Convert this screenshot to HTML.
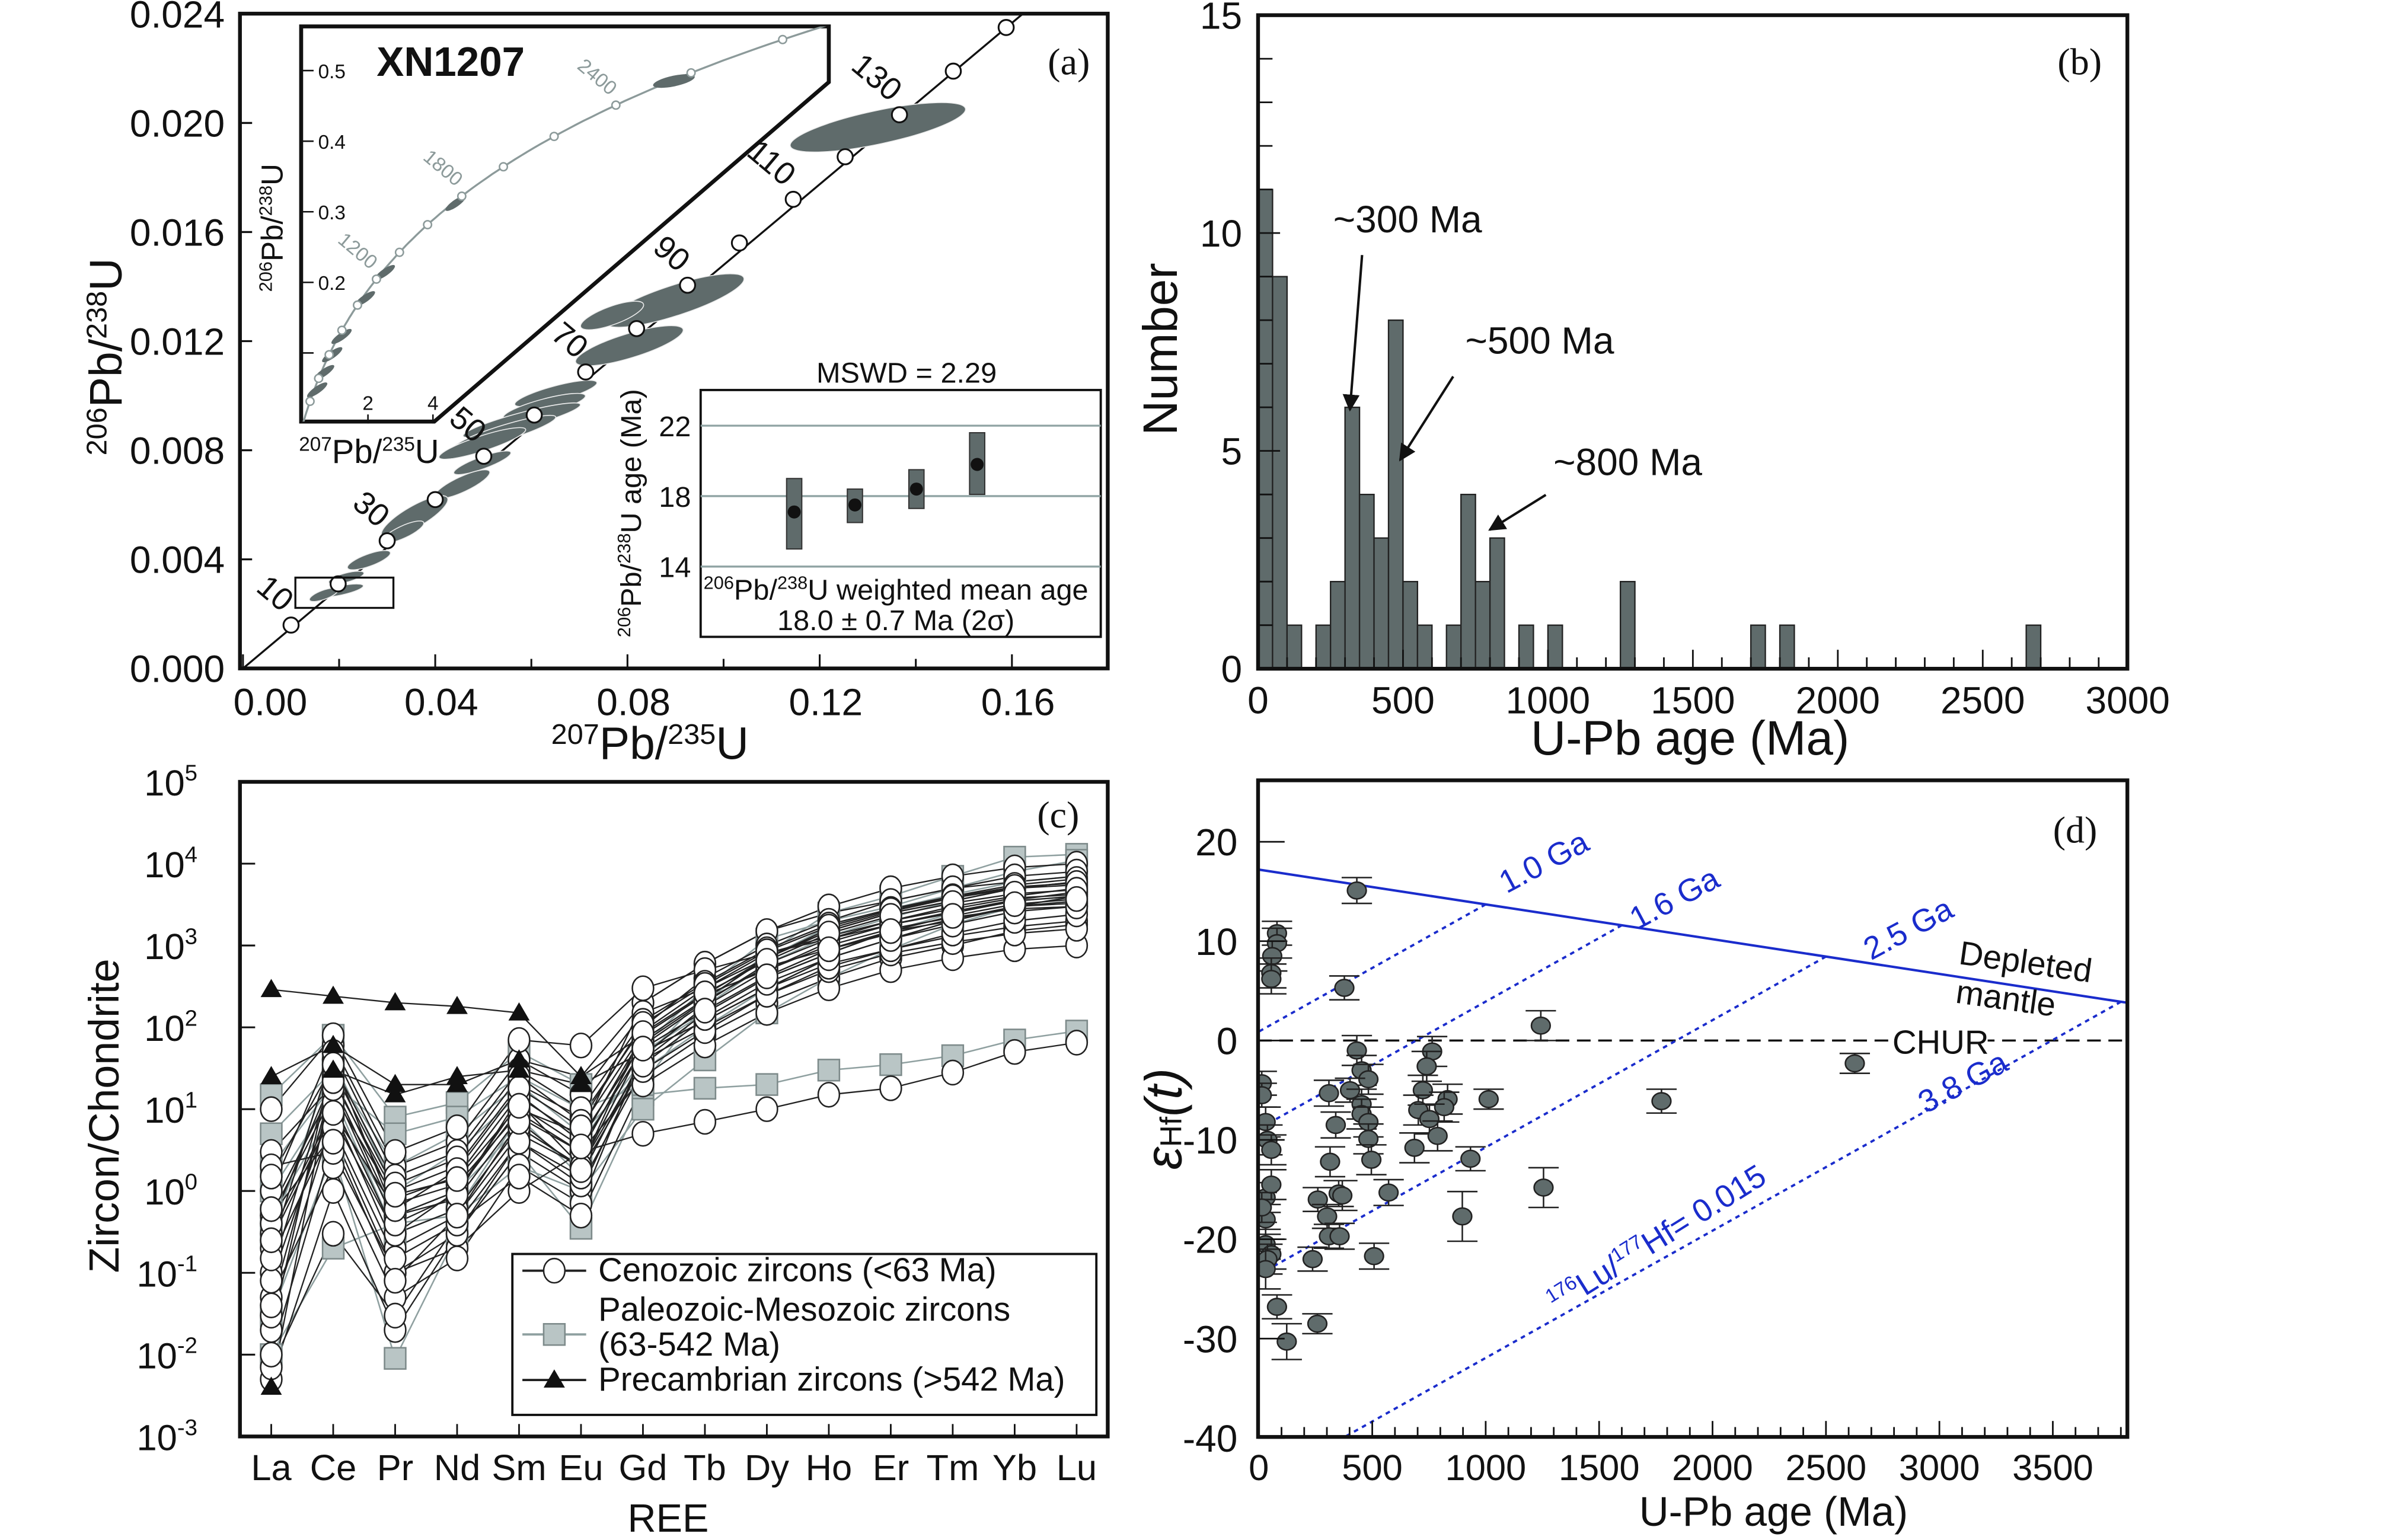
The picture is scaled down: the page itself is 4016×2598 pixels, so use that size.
<!DOCTYPE html>
<html><head><meta charset="utf-8"><style>
html,body{margin:0;padding:0;background:#fff;}
svg{display:block;}
text{font-family:"Liberation Sans",Arial,sans-serif;fill:#111;}
.nar{font-family:"Liberation Sans Narrow","Liberation Sans",sans-serif;}
.ser{font-family:"Liberation Serif",serif;}
</style></head><body>
<svg id="chart" width="4016" height="2598" viewBox="0 0 1568 1014.4" xmlns="http://www.w3.org/2000/svg">
<defs><marker id="ah" viewBox="0 0 10 10" refX="9" refY="5" markerWidth="7" markerHeight="7" orient="auto"><path d="M0,0 L10,5 L0,10 z" fill="#111"/></marker>
<clipPath id="aclip"><rect x="158" y="9" width="571.5" height="431.3"/></clipPath>
<clipPath id="insclip"><polygon points="198.3,17.4 545.8,17.4 545.8,54.1 286,277.7 198.3,277.7"/></clipPath>
</defs>
<rect width="1568" height="1015" fill="#fff"/>
<g id="pa">
<text class="ser" x="690" y="49" font-size="25">(a)</text>
<text class="nar" transform="translate(80,235) rotate(-90)" text-anchor="middle" font-size="30"><tspan font-size="19" dy="-10">206</tspan><tspan dy="10">Pb/</tspan><tspan font-size="19" dy="-10">238</tspan><tspan dy="10">U</tspan></text>
<text class="nar" x="428" y="500" text-anchor="middle" font-size="30"><tspan font-size="19" dy="-10">207</tspan><tspan dy="10">Pb/</tspan><tspan font-size="19" dy="-10">235</tspan><tspan dy="10">U</tspan></text>
</g>
<g id="pb">
<text class="ser" x="1355" y="49" font-size="25">(b)</text>
<text class="nar" transform="translate(775,230) rotate(-90)" text-anchor="middle" font-size="32">Number</text>
<text class="nar" x="1113" y="497" text-anchor="middle" font-size="32">U-Pb age (Ma)</text>
</g>
<g id="pc">
<text class="ser" x="683" y="545" font-size="25">(c)</text>
<text class="nar" transform="translate(78,735) rotate(-90)" text-anchor="middle" font-size="28">Zircon/Chondrite</text>
<text class="nar" x="440" y="1009" text-anchor="middle" font-size="26">REE</text>
</g>
<g id="pd">
<text class="ser" x="1352" y="555" font-size="25">(d)</text>
<text transform="translate(778,737) rotate(-90)" text-anchor="middle" font-size="34" font-style="italic">ε<tspan font-size="20" font-style="normal">Hf</tspan>(<tspan font-style="italic">t</tspan>)</text>
<text class="nar" x="1168" y="1005" text-anchor="middle" font-size="27">U-Pb age (Ma)</text>
</g>
</svg>
<script>
// ---------- DATA ----------
const concAges = [10,20,30,40,50,60,70,80,90,100,110,120,130,140,150];
const concX = [0.0100,0.0198,0.0300,0.0400,0.0501,0.0606,0.0713,0.0819,0.0925,0.1033,0.1145,0.1253,0.1366,0.1478,0.1588];
const concY = [0.00159,0.0031,0.00468,0.00619,0.00778,0.00929,0.01087,0.01246,0.01405,0.0156,0.0172,0.01876,0.0203,0.0219,0.0235];
const concLabels = [10,30,50,70,90,110,130];
const ellX = [0.1321,0.0898,0.0804,0.0768,0.0651,0.0627,0.0580,0.0545,0.0498,0.0498,0.0456,0.0357,0.0333,0.0262,0.0215,0.0204,0.0168];
const ellY = [0.01984,0.01349,0.01183,0.01294,0.01008,0.0096,0.0091,0.00865,0.00825,0.00754,0.00675,0.00556,0.0050,0.00397,0.00333,0.00286,0.0027];
const ellA = [59,48,37,22,28,28,40,35,30,20,20,25,15,15,12,15,10];
const ellB = [11,10,8,6,5,5,5,5,5,4,5,7,4,4,3,3,3];
const ellRot = [-12,-18,-17,-20,-15,-15,-15,-17,-18,-20,-25,-30,-25,-20,-15,-12,-20];
const insetAges = [200,400,600,800,1000,1200,1400,1600,1800,2000,2200,2400,2600,2800];
const insetEllAge = [300,450,600,750,1050,1250,1750,2550];
const wmAge = [17.1,17.5,18.4,19.8];
const wmLow = [15.0,16.5,17.3,18.1];
const wmHigh = [19.0,18.4,19.5,21.6];
const wmTicks = [14,18,22];
const histBins = [0,50,100,200,250,300,350,400,450,500,550,650,700,750,800,900,1000,1250,1700,1800,2650];
const histCounts = [11,9,1,1,2,6,4,3,8,2,1,1,4,2,3,1,1,2,1,1,1];
const histXTicks = [0,500,1000,1500,2000,2500,3000];
const histYTicks = [0,5,10,15];
const reeLabels = ["La","Ce","Pr","Nd","Sm","Eu","Gd","Tb","Dy","Ho","Er","Tm","Yb","Lu"];
const cenozoic = [
[0.02,40,0.5,1,10,5,200,600,1500,3000,5000,7000,9000,10000],
[0.1,30,1,2,20,8,100,400,1000,2000,3500,5000,7000,8000],
[0.3,10,0.2,0.5,5,2,60,200,600,1200,2000,3000,4000,5000],
[1,60,2,4,40,15,150,300,700,1500,2500,3500,5000,6000],
[0.005,1,0.02,0.3,3,1,40,150,400,800,1500,2000,3000,3500],
[3,20,0.5,0.8,8,3,25,80,200,400,700,1000,1500,1800],
[0.5,5,0.1,0.2,1,3,5,7,10,15,18,28,50,65],
[0.05,2,0.05,0.15,2,0.7,50,120,300,600,900,1300,1700,2000],
[10,80,3,6,70,60,300,500,800,1200,1800,2500,3500,4000],
[0.007,0.3,0.03,0.4,1.5,0.5,20,60,150,300,500,700,900,1000],
[0.5,15,0.8,1.5,15,4,80,250,500,1000,1600,2200,2800,3000],
[0.2,50,1.5,3,30,10,120,350,900,1800,2800,4000,5500,6500],
[0.03,8,0.3,1,12,2,40,100,250,500,800,1100,1400,1600],
[2,3,0.1,0.3,4,1.2,30,90,250,550,900,1400,2000,2400],
[0.4,25,0.7,1.2,9,3,70,220,700,1600,2600,3800,5000,5500],
[0.08,12,0.3,0.6,6,2,90,300,800,1300,2000,2800,3800,4200],
[0.15,6,0.15,0.4,4,1.5,45,180,500,1100,1800,2600,3600,4500],
[1.5,35,1.2,2.5,25,7,110,330,850,1700,2700,3900,5200,5800],
[0.6,18,0.4,0.9,14,4.5,65,210,550,900,1400,2100,3000,3300],
[0.01,4,0.08,0.5,7,1.8,35,130,350,700,1200,1800,2600,3000],
[0.25,9,0.6,1.8,18,6,85,260,650,1400,2300,3300,4300,4800],
[0.04,22,0.9,1.4,11,3.5,55,160,420,900,1500,2300,3200,3700]
];
const paleo = [
[15,80,8,12,50,20,50,150,400,800,1500,2500,3500,4000],
[5,30,2,5,20,5,30,100,300,700,1200,2000,3000,3500],
[0.03,3,0.009,0.3,3,0.35,15,18,20,30,35,45,70,90],
[2,20,5,8,25,10,20,200,800,2500,4000,7000,12000,13000],
[0.5,10,0.5,1,6,2,60,300,1200,2000,3000,5000,8000,11000],
[0.01,0.2,0.4,0.5,2,1,10,40,150,400,900,1800,3000,4000],
[0.3,40,1,3,15,4,40,250,700,1700,2800,4200,6000,7000],
[1,15,0.3,0.6,8,1.5,45,180,600,1300,2200,3500,5000,6000]
];
const precam = [
[290,240,200,180,150,25,200,600,1500,2500,3500,5000,6000,7000],
[25,60,20,20,40,25,80,250,700,1500,2500,3500,5000,6000],
[0.004,30,15,25,30,20,50,120,300,700,1200,2000,3000,4000]
];
const reeYTicks = [-3,-2,-1,0,1,2,3,4,5];
const hfAge = [13,13,30,38,55,30,55,30,13,30,55,38,30,80,123,80,80,59,55,55,432,377,432,453,483,309,402,453,453,483,339,483,496,314,572,260,352,368,301,309,356,237,508,258,723,764,740,832,817,703,752,788,686,1013,933,897,1243,1255,1775,2627];
const hfEps = [-4.3,-5.5,-8.2,-10,-11,-15.8,-14.5,-18,-16.8,-20.5,-21.5,-22,-23,-26.8,-30.3,10.8,9.8,8.5,6.8,6.2,15.1,5.3,-1,-3,-3.9,-5.3,-5,-6.4,-7.4,-8.2,-8.5,-9.9,-12,-12.2,-15.3,-16,-15.4,-15.6,-17.7,-19.7,-19.7,-22,-21.7,-28.5,-5,-1.1,-2.6,-5.9,-6.7,-7,-7.9,-9.6,-10.8,-5.9,-11.9,-17.7,1.5,-14.8,-6.1,-2.3];
const hfErr = [1.2,1.2,1.5,1.5,1.5,1.5,1.5,1.5,1.5,1.5,1.5,1.5,2,1.2,1.8,1.2,1.5,1.5,1.5,1.5,1.3,1.2,1.5,1.5,1.5,1.3,1.2,1.5,1.5,1.5,1.3,1.5,1.5,1.5,1.3,1.2,1.3,1.5,1.2,1.2,1.3,1.2,1.3,1,1.5,1.5,1.5,1.5,1.5,1.5,1.5,1.5,1.5,1,1.2,2.5,1.5,2,1.2,1];
const modelAges = [1000,1600,2500,3800];
const modelLabels = ["1.0 Ga","1.6 Ga","2.5 Ga","3.8 Ga"];
const dmStart = 17.2, dmEnd = 3.9, dmAgeEnd = 3800, evoSlope = 0.0128;
const hfXTicks = [0,500,1000,1500,2000,2500,3000,3500];
const hfYTicks = [20,10,0,-10,-20,-30,-40];

const NS = "http://www.w3.org/2000/svg";
const svg = document.getElementById('chart');
function mk(tag, attrs, parent){const e=document.createElementNS(NS,tag);for(const k in attrs)e.setAttribute(k,attrs[k]);(parent||svg).appendChild(e);return e;}
const ga = document.getElementById('pa'), gb = document.getElementById('pb'), gc = document.getElementById('pc'), gd = document.getElementById('pd');

// ---------- PANEL A ----------
const ax = v => 160 + v*3165;
const ay = v => 440.3 - v*17966;
{
  const ca = mk('g',{'clip-path':'url(#aclip)'},ga);
  
  
  let l = mk('line',{x1:ax(0),y1:ay(0),x2:ax(0.1588)+30,y2:ay(0.0235)-25,stroke:'#111','stroke-width':1.3},ca);
  
  
  for(let i=0;i<ellX.length;i++){
    const e = mk('ellipse',{cx:ax(ellX[i]),cy:ay(ellY[i]),rx:ellA[i],ry:ellB[i],fill:'#5f6b6b',stroke:'#eee','stroke-width':0.6,transform:`rotate(${ellRot[i]} ${ax(ellX[i])} ${ay(ellY[i])})`},ca);
    
    
  }
  for(let i=0;i<concAges.length;i++){
    const c = mk('circle',{cx:ax(concX[i]),cy:ay(concY[i]),r:5,fill:'#fff',stroke:'#111','stroke-width':1.2},ca);
    
    
    if(concLabels.includes(concAges[i])){
      const t = mk('text',{x:ax(concX[i])-6,y:ay(concY[i])-8,'text-anchor':'end','font-size':21,transform:`rotate(40 ${ax(concX[i])-6} ${ay(concY[i])-8})`},ca);
      t.textContent = concAges[i];
      
      
    }
  }
  const bx = mk('rect',{x:ax(0.0109),y:ay(0.00333),width:ax(0.0313)-ax(0.0109),height:ay(0.00222)-ay(0.00333),fill:'none',stroke:'#111','stroke-width':1.3},ga);
  
  
  const fr = mk('rect',{x:158,y:9,width:571.5,height:431.3,fill:'none',stroke:'#111','stroke-width':2.5},ga);
  
  
  for(let k=0;k<=6;k++){
    const v = k*0.004;
    const tk = mk('line',{x1:158,y1:ay(v),x2:166,y2:ay(v),stroke:'#111','stroke-width':1.3},ga);
    
    
    const t = mk('text',{x:148,y:ay(v)+9,'text-anchor':'end','font-size':25},ga);
    t.textContent = v.toFixed(3);
    
    
  }
  for(let k=0;k<=8;k++){
    const v = k*0.02;
    const tk = mk('line',{x1:ax(v),y1:440.3,x2:ax(v),y2:k%2?434:431,stroke:'#111','stroke-width':1.2},ga);
    
    
    if(k%2===0){
      const t = mk('text',{x:k===0?178:ax(v)+4,y:471,'text-anchor':'middle','font-size':25},ga);
      t.textContent = v.toFixed(2);
      
      
    }
  }
  const poly = mk('polygon',{points:`198.3,17.4 545.8,17.4 545.8,54.1 286,277.7 198.3,277.7`,fill:'#fff',stroke:'#111','stroke-width':2.6},ga);
  
  
  const ins = mk('g',{'clip-path':'url(#insclip)'},ga);
  
  
  const ix = v => 199.5 + v*21.4, iy = v => 279 - v*465;
  const l238=1.55125e-4, l235=9.8485e-4;
  let d='';
  for(let t=0;t<=3100;t+=25){const X=Math.exp(l235*t)-1,Y=Math.exp(l238*t)-1;d+=(t?'L':'M')+ix(X).toFixed(1)+','+iy(Y).toFixed(1);}
  const ic = mk('path',{d:d,fill:'none',stroke:'#8c9a9a','stroke-width':1.3},ins);
  
  
  for(const t of insetEllAge){
    const X=Math.exp(l235*t)-1,Y=Math.exp(l238*t)-1;
    const e = mk('ellipse',{cx:ix(X)+2,cy:iy(Y),rx:t>2000?14:8,ry:t>2000?3.5:2.3,fill:'#5f6b6b',transform:`rotate(${t>2000?-12:-35} ${ix(X)+2} ${iy(Y)})`},ins);
    
    
  }
  for(const t of insetAges){
    const X=Math.exp(l235*t)-1,Y=Math.exp(l238*t)-1;
    const c = mk('circle',{cx:ix(X),cy:iy(Y),r:2.6,fill:'#fff',stroke:'#8c9a9a','stroke-width':1},ins);
    
    
    if(t===1200||t===1800||t===2400){
      const tx = mk('text',{x:ix(X)-4,y:iy(Y)-6,'text-anchor':'end','font-size':13,style:'fill:#8c9a9a',transform:`rotate(40 ${ix(X)-4} ${iy(Y)-6})`},ins);
      tx.textContent = t;
      
      
    }
  }
  for(const v of [0.1,0.2,0.3,0.4,0.5]){
    const tk = mk('line',{x1:ix(0),y1:iy(v),x2:ix(0)+7,y2:iy(v),stroke:'#111','stroke-width':1},ga);
    
    
    if(v>0.1){const t = mk('text',{x:ix(0)+10,y:iy(v)+5,'font-size':13},ga);
    t.textContent = v.toFixed(1);
    
    }
  }
  for(const v of [2,4]){
    const tk = mk('line',{x1:ix(v),y1:iy(0),x2:ix(v),y2:iy(0)-6,stroke:'#111','stroke-width':1},ga);
    
    
    const t = mk('text',{x:ix(v),y:iy(0)-9,'text-anchor':'middle','font-size':13},ga);
    t.textContent = v;
    
    
  }
  let t1 = mk('text',{x:248,y:50,'font-size':27,'font-weight':'bold'},ga); t1.textContent='XN1207';
  
  
  let t2 = mk('text',{x:0,y:0,'text-anchor':'middle','font-size':20,class:'nar',transform:'translate(186,150) rotate(-90)'},ga);
  t2.innerHTML='<tspan font-size="12" dy="-7">206</tspan><tspan dy="7">Pb/</tspan><tspan font-size="12" dy="-7">238</tspan><tspan dy="7">U</tspan>';
  
  
  let t3 = mk('text',{x:243,y:305,'text-anchor':'middle','font-size':22,class:'nar'},ga);
  t3.innerHTML='<tspan font-size="13" dy="-8">207</tspan><tspan dy="8">Pb/</tspan><tspan font-size="13" dy="-8">235</tspan><tspan dy="8">U</tspan>';
  
  
  const wy = v => 326.8 - (v-18)*11.6;
  const wx = [523,563,603.5,643.5];
  const wb = mk('rect',{x:461.4,y:256.9,width:263.5,height:162.6,fill:'#fff',stroke:'#111','stroke-width':1.5},ga);
  
  
  for(const v of wmTicks){
    const g = mk('line',{x1:461.4,y1:wy(v),x2:724.9,y2:wy(v),stroke:'#8fa3a3','stroke-width':1.3},ga);
    
    
    const t = mk('text',{x:455,y:wy(v)+7,'text-anchor':'end','font-size':19,class:'nar'},ga);
    t.textContent = v;
    
    
  }
  for(let i=0;i<wmAge.length;i++){
    const r = mk('rect',{x:wx[i]-5,y:wy(wmHigh[i]),width:10,height:wy(wmLow[i])-wy(wmHigh[i]),fill:'#5f6b6b',stroke:'#333','stroke-width':0.8},ga);
    
    
    const c = mk('circle',{cx:wx[i],cy:wy(wmAge[i]),r:4.3,fill:'#111'},ga);
    
    
  }
  let t4 = mk('text',{x:597,y:252,'text-anchor':'middle','font-size':19,class:'nar'},ga); t4.textContent='MSWD = 2.29';
  
  
  let t5 = mk('text',{x:590,y:395,'text-anchor':'middle','font-size':19,class:'nar'},ga);
  t5.innerHTML='<tspan font-size="12" dy="-7">206</tspan><tspan dy="7">Pb/</tspan><tspan font-size="12" dy="-7">238</tspan><tspan dy="7">U weighted mean age</tspan>';
  
  
  let t6 = mk('text',{x:590,y:415,'text-anchor':'middle','font-size':19,class:'nar'},ga); t6.textContent='18.0 ± 0.7 Ma (2σ)';
  
  
  let t7 = mk('text',{x:0,y:0,'text-anchor':'middle','font-size':19,class:'nar',transform:'translate(422,338) rotate(-90)'},ga);
  t7.innerHTML='<tspan font-size="12" dy="-7">206</tspan><tspan dy="7">Pb/</tspan><tspan font-size="12" dy="-7">238</tspan><tspan dy="7">U age (Ma)</tspan>';
  
  
}

// ---------- PANEL B ----------
const bxs = m => 828.5 + m*0.1909;
const bys = n => 440.5 - n*28.7;
{
  for(let i=0;i<histBins.length;i++){
    const r = mk('rect',{x:bxs(histBins[i]),y:bys(histCounts[i]),width:bxs(histBins[i]+50)-bxs(histBins[i]),height:bys(0)-bys(histCounts[i]),fill:'#5f6b6b',stroke:'#222','stroke-width':0.9},gb);
    
    
  }
  const fr = mk('rect',{x:828.5,y:10,width:572.5,height:430.5,fill:'none',stroke:'#111','stroke-width':2.5},gb);
  
  
  for(let m=0;m<=3000;m+=100){
    const tk = mk('line',{x1:bxs(m),y1:440.5,x2:bxs(m),y2:m%500?433:428,stroke:'#111','stroke-width':1.1},gb);
    
    
  }
  for(const m of histXTicks){
    const t = mk('text',{x:bxs(m),y:470,'text-anchor':'middle','font-size':25},gb);
    t.textContent = m;
    
    
  }
  for(let n=1;n<15;n++){
    const tk = mk('line',{x1:828.5,y1:bys(n),x2:n%5?838:843,y2:bys(n),stroke:'#111','stroke-width':1.1},gb);
    
    
  }
  for(const n of histYTicks){
    const t = mk('text',{x:818,y:bys(n)+9,'text-anchor':'end','font-size':25},gb);
    t.textContent = n;
    
    
  }
  const ann = [["~300 Ma",878,153,897,168,889,270],["~500 Ma",965,233,957,248,922,303],["~800 Ma",1023,313,1018,326,981,349]];
  for(const a of ann){
    const t = mk('text',{x:a[1],y:a[2],'font-size':25,class:'nar'},gb);
    t.textContent = a[0];
    
    
    const l = mk('line',{x1:a[3],y1:a[4],x2:a[5],y2:a[6],stroke:'#111','stroke-width':1.6,'marker-end':'url(#ah)'},gb);
    
    
  }
}

// ---------- PANEL C ----------
const cx = i => 178.6 + i*40.8;
const cy = v => 946.2 - (Math.log10(v)+3)*53.9;
{
  function series(arr, kind){
    const pts = arr.map((v,i)=>cx(i).toFixed(1)+','+cy(Math.max(v,0.0009)).toFixed(1)).join(' ');
    const pl = mk('polyline',{points:pts,fill:'none',stroke:kind==='p'?'#8fa0a0':'#222','stroke-width':kind==='p'?1:0.9},gc);
    
    
  }
  function marker(x,y,kind){
    let m;
    if(kind==='c') m = mk('ellipse',{cx:x,cy:y,rx:7,ry:8,fill:'#fff',stroke:'#222','stroke-width':1},gc);
    else if(kind==='p') m = mk('rect',{x:x-7,y:y-7,width:14,height:14,fill:'#b9c5c5',stroke:'#7d8a8a','stroke-width':1},gc);
    else m = mk('polygon',{points:`${x},${y-7} ${x+7},${y+5} ${x-7},${y+5}`,fill:'#111'},gc);
    
    
  }
  for(const s of paleo) series(s,'p');
  for(const s of cenozoic) series(s,'c');
  for(const s of precam) series(s,'t');
  for(const s of paleo) s.forEach((v,i)=>marker(cx(i),cy(v),'p'));
  for(const s of cenozoic) s.forEach((v,i)=>marker(cx(i),cy(v),'c'));
  for(const s of precam) s.forEach((v,i)=>{ if(i<=5) marker(cx(i),cy(v),'t'); });
  const lg = mk('rect',{x:337.4,y:826,width:384.6,height:106,fill:'#fff',stroke:'#111','stroke-width':1.5},gc);
  
  
  const entries = [['Cenozoic zircons (<63 Ma)',844,'c','#222'],['Paleozoic-Mesozoic zircons',870,'p','#8fa0a0'],['Precambrian zircons (>542 Ma)',916,'t','#222']];
  for(const e of entries){
    const yy = e[2]==='p'? 879 : e[1]-7;
    const ln = mk('line',{x1:344,y1:yy,x2:386,y2:yy,stroke:e[3],'stroke-width':1.5},gc);
    
    
    marker(365,yy,e[2]);
    const t = mk('text',{x:394,y:e[1],'font-size':22,class:'nar'},gc);
    t.textContent = e[0];
    
    
  }
  const t2 = mk('text',{x:394,y:893,'font-size':22,class:'nar'},gc); t2.textContent='(63-542 Ma)';
  
  
  const fr = mk('rect',{x:158,y:515,width:571.5,height:431.2,fill:'none',stroke:'#111','stroke-width':2.5},gc);
  
  
  for(const e of reeYTicks){
    const y = cy(Math.pow(10,e));
    if(e>-3&&e<5){const tk = mk('line',{x1:158,y1:y,x2:168,y2:y,stroke:'#111','stroke-width':1.2},gc);
    
    }
    const t = mk('text',{x:130,y:y+9,'text-anchor':'end','font-size':24},gc);
    t.innerHTML = '10<tspan font-size="15" dy="-10">'+e+'</tspan>';
    
    
  }
  reeLabels.forEach((lab,i)=>{
    const tk = mk('line',{x1:cx(i),y1:946.2,x2:cx(i),y2:938,stroke:'#111','stroke-width':1.1},gc);
    
    
    const t = mk('text',{x:cx(i),y:975,'text-anchor':'middle','font-size':24,class:'nar'},gc);
    t.textContent = lab;
    
    
  });
}

// ---------- PANEL D ----------
const dxs = m => 829 + m*0.1494;
const dys = e => 685.4 - e*6.545;
{
  const clipR = mk('clipPath',{id:'dclip'},gd);
  mk('rect',{x:828.5,y:514,width:572.5,height:432.5},clipR);
  const inner = mk('g',{'clip-path':'url(#dclip)'},gd);
  
  
  const ch = mk('line',{x1:828.5,y1:dys(0),x2:1401,y2:dys(0),stroke:'#111','stroke-width':1.4,'stroke-dasharray':'9,5'},inner);
  
  
  const dmAt = t => dmStart + (dmEnd-dmStart)*t/dmAgeEnd;
  const dm = mk('line',{x1:dxs(0),y1:dys(dmStart),x2:dxs(3830),y2:dys(dmAt(3830)),stroke:'#1a2ccc','stroke-width':1.6},inner);
  
  
  modelAges.forEach((T,k)=>{
    const e0 = dmAt(T);
    let t0 = Math.max(0, T - (e0+45)/evoSlope);
    const l = mk('line',{x1:dxs(T),y1:dys(e0),x2:dxs(t0),y2:dys(e0-evoSlope*(T-t0)),stroke:'#1a2ccc','stroke-width':1.5,'stroke-dasharray':'3,3'},inner);
    
    
  });
  for(let i=0;i<hfAge.length;i++){
    const x = dxs(hfAge[i]), y1 = dys(hfEps[i]+hfErr[i]), y2 = dys(hfEps[i]-hfErr[i]);
    const eb = mk('path',{d:`M${x-10},${y1}H${x+10}M${x},${y1}V${y2}M${x-10},${y2}H${x+10}`,stroke:'#222','stroke-width':1,fill:'none'},inner);
    
    
    const p = mk('ellipse',{cx:x,cy:dys(hfEps[i]),rx:6.2,ry:5.5,fill:'#5f6b6b',stroke:'#222','stroke-width':1},inner);
    
    
  }
  const labs = [["1.0 Ga",1020,574,-28],["1.6 Ga",1106,598,-28],["2.5 Ga",1260,618,-28],["3.8 Ga",1296,719,-28]];
  labs.forEach(a=>{
    const t = mk('text',{x:a[1],y:a[2],'text-anchor':'middle','font-size':21,style:'fill:#1a2ccc',transform:`rotate(${a[3]} ${a[1]} ${a[2]})`},gd);
    t.textContent = a[0];
    
    
  });
  const lu = mk('text',{x:1095,y:822,'text-anchor':'middle','font-size':21,style:'fill:#1a2ccc',transform:'rotate(-32 1095 822)'},gd);
  lu.innerHTML='<tspan font-size="13" dy="-8">176</tspan><tspan dy="8">Lu/</tspan><tspan font-size="13" dy="-8">177</tspan><tspan dy="8">Hf= 0.015</tspan>';
  
  
  const dl = mk('text',{x:1333,y:641,'text-anchor':'middle','font-size':22,class:'nar',transform:'rotate(8 1333 641)'},gd); dl.textContent='Depleted';
  
  
  const ml = mk('text',{x:1320,y:665,'text-anchor':'middle','font-size':22,class:'nar',transform:'rotate(8 1320 665)'},gd); ml.textContent='mantle';
  
  
  const cb = mk('rect',{x:1247,y:676,width:62,height:20,fill:'#fff'},gd);
  
  
  const cl = mk('text',{x:1278,y:694,'text-anchor':'middle','font-size':22,class:'nar'},gd); cl.textContent='CHUR';
  
  
  const fr = mk('rect',{x:828.5,y:514,width:572.5,height:432.5,fill:'none',stroke:'#111','stroke-width':2.5},gd);
  
  
  for(let m=100;m<=3800;m+=100){
    const tk = mk('line',{x1:dxs(m),y1:946.5,x2:dxs(m),y2:m%500?940:936,stroke:'#111','stroke-width':1.1},gd);
    
    
  }
  for(const m of hfXTicks){
    const t = mk('text',{x:dxs(m),y:975,'text-anchor':'middle','font-size':24,class:m?'nar':''},gd);
    t.textContent = m;
    
    
  }
  for(const e of hfYTicks){
    const tk = mk('line',{x1:828.5,y1:dys(e),x2:846,y2:dys(e),stroke:'#111','stroke-width':1.1},gd);
    
    
    const t = mk('text',{x:815,y:dys(e)+9,'text-anchor':'end','font-size':25},gd);
    t.textContent = e<0 ? '-'+Math.abs(e) : e;
    
    
  }
}
</script>
</body></html>
